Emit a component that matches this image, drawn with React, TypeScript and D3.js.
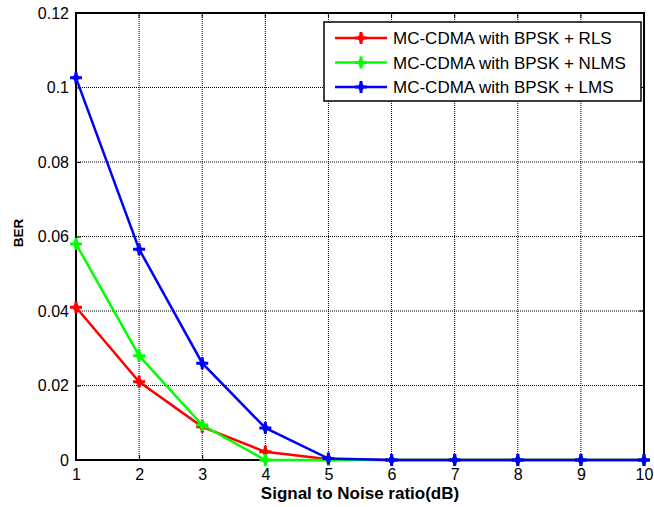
import React, { useRef, useEffect } from "react";
import * as d3 from "d3";

const snr = [1, 2, 3, 4, 5, 6, 7, 8, 9, 10];
const berRLS = [0.041, 0.021, 0.0089, 0.0022, 0.0002, 0, 0, 0, 0, 0];
const berNLMS = [0.058, 0.028, 0.0094, 0, 0, 0, 0, 0, 0, 0];
const berLMS = [0.1026, 0.0566, 0.026, 0.0086, 0.0004, 0, 0, 0, 0, 0];
const yTicks = [0, 0.02, 0.04, 0.06, 0.08, 0.1, 0.12];
const seriesNames = [
  "MC-CDMA with BPSK + RLS",
  "MC-CDMA with BPSK + NLMS",
  "MC-CDMA with BPSK + LMS",
];
const seriesColors = ["#ff0000", "#00ff00", "#0000ff"];

const App = () => {
  const svgRef = useRef<SVGSVGElement>(null);

  useEffect(() => {
    const width = 654;
    const height = 507;
    const margin = { top: 13, right: 10, bottom: 47, left: 76 };
    const font = "Arial, 'Liberation Sans', sans-serif";

    const svg = d3.select(svgRef.current);
    svg.selectAll("*").remove();

    const x = d3.scaleLinear().domain([1, 10]).range([margin.left, width - margin.right]);
    const y = d3.scaleLinear().domain([0, 0.12]).range([height - margin.bottom, margin.top]);

    // background
    svg.append("rect").attr("width", width).attr("height", height).attr("fill", "#fff");

    // grid (dotted)
    const grid = svg.append("g").attr("stroke", "#000").attr("stroke-width", 1).attr("stroke-dasharray", "1,1");
    snr.slice(1, -1).forEach((v) => {
      grid.append("line").attr("x1", x(v)).attr("x2", x(v)).attr("y1", y(0)).attr("y2", y(0.12));
    });
    yTicks.slice(1, -1).forEach((v) => {
      grid.append("line").attr("x1", x(1)).attr("x2", x(10)).attr("y1", y(v)).attr("y2", y(v));
    });

    // axes
    const xAxis = svg
      .append("g")
      .attr("transform", `translate(0,${y(0)})`)
      .call(d3.axisBottom(x).tickValues(snr).tickFormat(d3.format("d")).tickSize(-5).tickPadding(9));
    const yAxis = svg
      .append("g")
      .attr("transform", `translate(${x(1)},0)`)
      .call(d3.axisLeft(y).tickValues(yTicks).tickFormat((d) => String(+d)).tickSize(-5).tickPadding(7));
    [xAxis, yAxis].forEach((g) => {
      g.select(".domain").remove();
      g.selectAll(".tick line").attr("stroke", "#000");
      g.selectAll("text").attr("font-family", font).attr("font-size", 16).attr("fill", "#000");
    });
    // top/right ticks
    const topTicks = svg.append("g").attr("stroke", "#000");
    snr.forEach((v) => {
      topTicks.append("line").attr("x1", x(v)).attr("x2", x(v)).attr("y1", y(0.12)).attr("y2", y(0.12) + 5);
    });
    yTicks.forEach((v) => {
      topTicks.append("line").attr("x1", x(10)).attr("x2", x(10) - 5).attr("y1", y(v)).attr("y2", y(v));
    });

    // frame
    svg
      .append("rect")
      .attr("x", x(1))
      .attr("y", y(0.12))
      .attr("width", x(10) - x(1))
      .attr("height", y(0) - y(0.12))
      .attr("fill", "none")
      .attr("stroke", "#000")
      .attr("stroke-width", 2);

    const line = d3
      .line<number>()
      .x((_, i) => x(snr[i]))
      .y((d) => y(d));

    const marker = (g: any, cx: number, cy: number, color: string) => {
      g.append("path")
        .attr("d", `M${cx},${cy - 6}L${cx + 3.5},${cy}L${cx},${cy + 6}L${cx - 3.5},${cy}Z`)
        .attr("fill", color);
      g.append("path")
        .attr("d", `M${cx - 6},${cy}L${cx + 6},${cy}M${cx},${cy - 6}L${cx},${cy + 6}`)
        .attr("stroke", color)
        .attr("stroke-width", 3);
    };

    const allSeries = [berRLS, berNLMS, berLMS];
    allSeries.forEach((vals, si) => {
      const g = svg.append("g");
      g.append("path")
        .datum(vals)
        .attr("fill", "none")
        .attr("stroke", seriesColors[si])
        .attr("stroke-width", 2.5)
        .attr("d", line);
      vals.forEach((v, i) => marker(g, x(snr[i]), y(v), seriesColors[si]));
    });

    // legend
    const lg = svg.append("g");
    lg.append("rect")
      .attr("x", 324)
      .attr("y", 22)
      .attr("width", 317)
      .attr("height", 79)
      .attr("fill", "#fff")
      .attr("stroke", "#000")
      .attr("stroke-width", 1.5);
    seriesNames.forEach((name, i) => {
      const ly = 38 + i * 24.5;
      lg.append("line")
        .attr("x1", 335)
        .attr("x2", 387)
        .attr("y1", ly)
        .attr("y2", ly)
        .attr("stroke", seriesColors[i])
        .attr("stroke-width", 2.5);
      marker(lg, 361, ly, seriesColors[i]);
      lg.append("text")
        .attr("x", 393)
        .attr("y", ly + 6)
        .attr("font-family", font)
        .attr("font-size", 17)
        .attr("fill", "#000")
        .text(name);
    });

    // axis labels
    svg
      .append("text")
      .attr("x", (x(1) + x(10)) / 2)
      .attr("y", 499)
      .attr("text-anchor", "middle")
      .attr("font-family", font)
      .attr("font-size", 17)
      .attr("font-weight", "bold")
      .text("Signal to Noise ratio(dB)");
    svg
      .append("text")
      .attr("transform", `translate(23,233) rotate(-90)`)
      .attr("text-anchor", "middle")
      .attr("font-family", font)
      .attr("font-size", 13.5)
      .attr("font-weight", "bold")
      .text("BER");
  }, []);

  return (
    <svg
      ref={svgRef}
      width={654}
      height={507}
      style={{ position: "absolute", left: 0, top: 0, display: "block" }}
    ></svg>
  );
};

export default App;
